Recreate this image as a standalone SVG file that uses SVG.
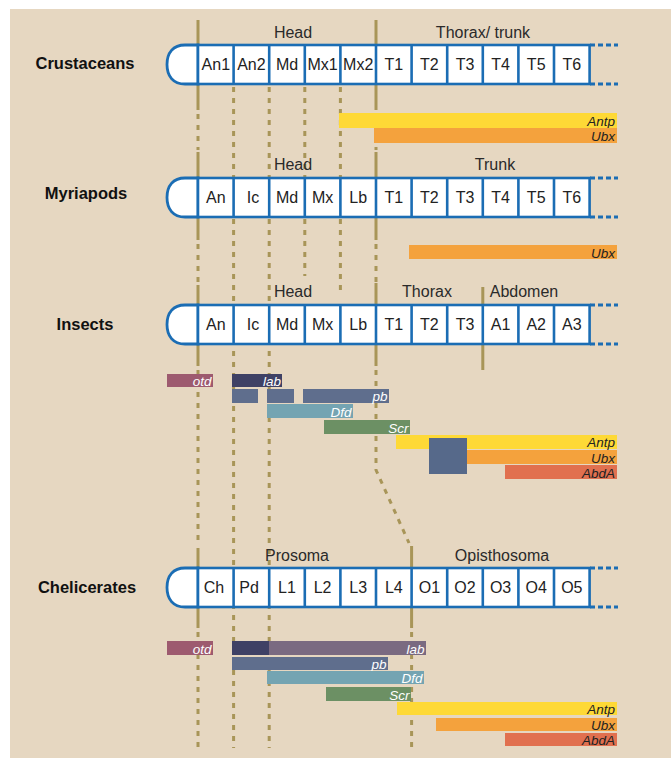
<svg xmlns="http://www.w3.org/2000/svg" xmlns:xlink="http://www.w3.org/1999/xlink" width="671" height="758" viewBox="0 0 671 758">
<style>
text{font-family:"Liberation Sans",Arial,sans-serif}
.seg{font-size:16px;fill:#222;text-anchor:middle}
.region{font-size:16px;fill:#2a2a2a;text-anchor:middle}
.taxon{font-size:16.5px;font-weight:bold;fill:#111;text-anchor:middle}
.gene{font-size:13.5px;font-style:italic;text-anchor:end}
.w{fill:#fff}
.k{fill:#222}
.solid{stroke:#A89558;stroke-width:3;fill:none}
.dot{stroke:#A89558;stroke-width:3;fill:none;stroke-dasharray:5 6}
.otd{fill:#9D5A6F}
.lab{fill:#3F4165}
.labc{fill:#7A6A81}
.pb{fill:#5F6E8D}
.dfd{fill:#74A4B2}
.scr{fill:#6C9064}
.antp{fill:#FED936}
.ubx{fill:#F4A23D}
.abda{fill:#E1704F}
.sq{fill:#56698A}
</style>
<defs>
<g id="body">
<path d="M198,0 H185 C173,0 167,8 167,19.5 C167,31 173,39 185,39 H198 Z" fill="#fff" stroke="#1B6DB4" stroke-width="2.8"/>
<rect x="198" y="0" width="391.6" height="39" fill="#fff" stroke="#1B6DB4" stroke-width="2.6"/>
<path d="M233.6,0V39M269.2,0V39M304.8,0V39M340.4,0V39M376,0V39M411.6,0V39M447.2,0V39M482.8,0V39M518.4,0V39M554,0V39" stroke="#1B6DB4" stroke-width="2.6"/>
<path d="M590,0H618M590,39H618" stroke="#1B6DB4" stroke-width="3" stroke-dasharray="5 3"/>
</g>
</defs>
<rect x="10" y="9" width="661" height="749" fill="#E6D7C1"/>
<g id="connectors">
<path class="solid" d="M198,20V110M198,152V240M198,285V366M198,548V628"/>
<path class="dot" d="M198,114V150M198,244V284M198,370V546M198,632V748"/>
<path class="dot" d="M233.6,87V748M269.2,87V748M304.8,87V276M340.4,87V293"/>
<path class="solid" d="M376,20V110M376,152V240M376,283V366M411.6,546V628M482.8,287V370"/>
<path class="dot" d="M376,114V150M376,244V282M376,370V470L409,543M411.6,632V748"/>
</g>
<g id="crustaceans">
<text class="taxon" x="85" y="69">Crustaceans</text>
<text class="region" x="293" y="38">Head</text>
<text class="region" x="483" y="38">Thorax/ trunk</text>
<use xlink:href="#body" y="45"/>
<text class="seg" y="70"><tspan x="215.8">An1</tspan><tspan x="251.4">An2</tspan><tspan x="287">Md</tspan><tspan x="322.6">Mx1</tspan><tspan x="358.2">Mx2</tspan><tspan x="393.8">T1</tspan><tspan x="429.4">T2</tspan><tspan x="465">T3</tspan><tspan x="500.6">T4</tspan><tspan x="536.2">T5</tspan><tspan x="571.8">T6</tspan></text>
</g>
<g id="crustaceans-genes">
<rect class="antp" x="339" y="113" width="278" height="15"/>
<text class="gene k" x="615" y="125.5">Antp</text>
<rect class="ubx" x="374" y="128" width="243" height="15"/>
<text class="gene k" x="615" y="141">Ubx</text>
</g>
<g id="myriapods">
<text class="taxon" x="86" y="199">Myriapods</text>
<text class="region" x="293" y="170">Head</text>
<text class="region" x="495" y="170">Trunk</text>
<use xlink:href="#body" y="178"/>
<text class="seg" y="203"><tspan x="215.8">An</tspan><tspan x="253">Ic</tspan><tspan x="287">Md</tspan><tspan x="322.6">Mx</tspan><tspan x="358.2">Lb</tspan><tspan x="393.8">T1</tspan><tspan x="429.4">T2</tspan><tspan x="465">T3</tspan><tspan x="500.6">T4</tspan><tspan x="536.2">T5</tspan><tspan x="571.8">T6</tspan></text>
</g>
<g id="myriapods-genes">
<rect class="ubx" x="409" y="245" width="208" height="14"/>
<text class="gene k" x="615" y="257.5">Ubx</text>
</g>
<g id="insects">
<text class="taxon" x="85" y="330">Insects</text>
<text class="region" x="293" y="297">Head</text>
<text class="region" x="427" y="297">Thorax</text>
<text class="region" x="524" y="297">Abdomen</text>
<use xlink:href="#body" y="305"/>
<text class="seg" y="330"><tspan x="215.8">An</tspan><tspan x="253">Ic</tspan><tspan x="287">Md</tspan><tspan x="322.6">Mx</tspan><tspan x="358.2">Lb</tspan><tspan x="393.8">T1</tspan><tspan x="429.4">T2</tspan><tspan x="465">T3</tspan><tspan x="500.6">A1</tspan><tspan x="536.2">A2</tspan><tspan x="571.8">A3</tspan></text>
</g>
<g id="insects-genes">
<rect class="otd" x="167" y="374" width="46" height="13"/>
<text class="gene w" x="211.5" y="386">otd</text>
<rect class="lab" x="232" y="374" width="50" height="13"/>
<text class="gene w" x="281" y="386">lab</text>
<rect class="pb" x="232" y="389" width="26" height="14"/>
<rect class="pb" x="267" y="389" width="27" height="14"/>
<rect class="pb" x="303" y="389" width="86" height="14"/>
<text class="gene w" x="387.5" y="401">pb</text>
<rect class="dfd" x="267" y="404" width="86" height="14"/>
<text class="gene w" x="351.5" y="416.5">Dfd</text>
<rect class="scr" x="324" y="420" width="86" height="14"/>
<text class="gene w" x="408.5" y="432.5">Scr</text>
<rect class="antp" x="396" y="435" width="221" height="14"/>
<text class="gene k" x="615" y="447">Antp</text>
<rect class="ubx" x="466" y="450" width="151" height="14"/>
<text class="gene k" x="615" y="462.5">Ubx</text>
<rect class="abda" x="505" y="465" width="112" height="14"/>
<text class="gene k" x="615" y="477.5">AbdA</text>
<rect class="sq" x="429" y="438" width="38" height="36"/>
</g>
<g id="chelicerates">
<text class="taxon" x="87" y="593">Chelicerates</text>
<text class="region" x="297" y="561">Prosoma</text>
<text class="region" x="502" y="561">Opisthosoma</text>
<use xlink:href="#body" y="568"/>
<text class="seg" y="593"><tspan x="214">Ch</tspan><tspan x="249">Pd</tspan><tspan x="287">L1</tspan><tspan x="322.6">L2</tspan><tspan x="358.2">L3</tspan><tspan x="393.8">L4</tspan><tspan x="429.4">O1</tspan><tspan x="465">O2</tspan><tspan x="500.6">O3</tspan><tspan x="536.2">O4</tspan><tspan x="571.8">O5</tspan></text>
</g>
<g id="chelicerates-genes">
<rect class="otd" x="167" y="641" width="46" height="14"/>
<text class="gene w" x="211.5" y="653.5">otd</text>
<rect class="labc" x="232" y="641" width="194" height="14"/>
<rect class="lab" x="232" y="641" width="37" height="14"/>
<text class="gene w" x="424.5" y="653.5">lab</text>
<rect class="pb" x="232" y="657" width="156" height="13"/>
<text class="gene w" x="386.5" y="668.5">pb</text>
<rect class="dfd" x="267" y="671" width="157" height="13"/>
<text class="gene w" x="422.5" y="682.5">Dfd</text>
<rect class="scr" x="326" y="687" width="85" height="14"/>
<text class="gene w" x="409.5" y="699.5">Scr</text>
<rect class="antp" x="397" y="702" width="220" height="13"/>
<text class="gene k" x="615" y="713.5">Antp</text>
<rect class="ubx" x="436" y="718" width="181" height="13"/>
<text class="gene k" x="615" y="729.5">Ubx</text>
<rect class="abda" x="505" y="733" width="112" height="13"/>
<text class="gene k" x="615" y="744.5">AbdA</text>
</g>
</svg>
